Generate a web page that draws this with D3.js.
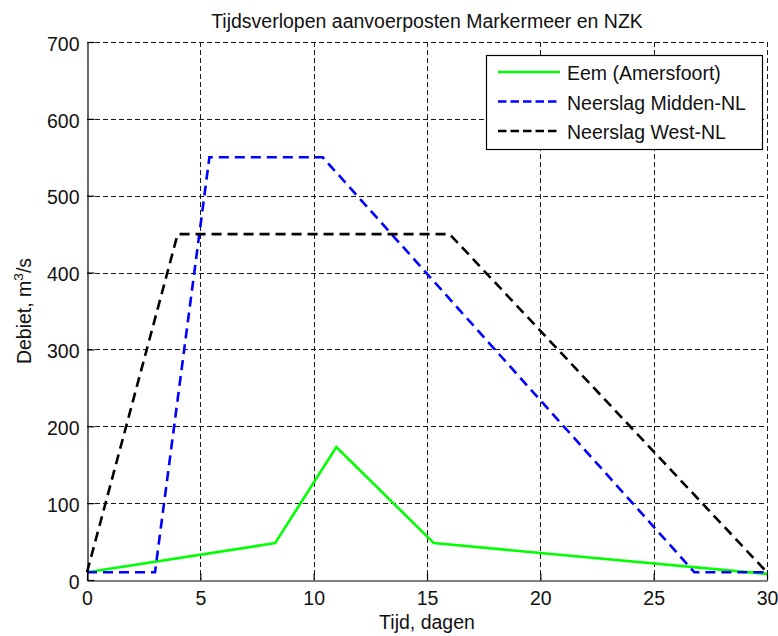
<!DOCTYPE html>
<html>
<head>
<meta charset="utf-8">
<script src="https://cdn.jsdelivr.net/npm/d3@7"></script>
<style>
  html, body { margin: 0; padding: 0; background: #fff; }
  svg { display: block; }
  text { font-family: "Liberation Sans", Arial, Helvetica, sans-serif; fill: #111; }
</style>
</head>
<body>
<svg id="chart" width="778" height="636"></svg>
<script>
// Discharge time series (days, m3/s)
const eemDays   = [0, 8.3, 11, 15.3, 30];
const eemFlow   = [10, 48, 173, 48, 8];
const midDays   = [0, 3, 5.4, 10.4, 26.8, 30];
const midFlow   = [10, 10, 550, 550, 10, 10];
const westDays  = [0, 4, 16, 30];
const westFlow  = [10, 450, 450, 10];

const seriesNames = ["Eem (Amersfoort)", "Neerslag Midden-NL", "Neerslag West-NL"];
const xTicks = [0, 5, 10, 15, 20, 25, 30];
const yTicks = [0, 100, 200, 300, 400, 500, 600, 700];

const titleText = "Tijdsverlopen aanvoerposten Markermeer en NZK";
const xLabel = "Tijd, dagen";

const FS = 19.5;
const m = { left: 87, right: 767, top: 42, bottom: 580 };

const svg = d3.select("#chart");

const x = d3.scaleLinear().domain([0, 30]).range([m.left, m.right]);
const y = d3.scaleLinear().domain([0, 700]).range([m.bottom, m.top]);

// dashed grid
const grid = svg.append("g").attr("stroke", "#1a1a1a").attr("stroke-width", 1)
  .attr("stroke-dasharray", "5,3");
grid.selectAll("line.v").data(xTicks.filter(d => d > 0)).join("line")
  .attr("x1", d => Math.round(x(d)) + 0.5).attr("x2", d => Math.round(x(d)) + 0.5)
  .attr("y1", m.top).attr("y2", m.bottom);
grid.selectAll("line.h").data(yTicks.filter(d => d > 0)).join("line")
  .attr("x1", m.left).attr("x2", m.right)
  .attr("y1", d => Math.round(y(d)) + 0.5).attr("y2", d => Math.round(y(d)) + 0.5);

// data lines
const series = [
  { name: seriesNames[0], xs: eemDays,  ys: eemFlow,  color: "#00ff00", dash: null },
  { name: seriesNames[1], xs: midDays,  ys: midFlow,  color: "#0000ff", dash: "10,6" },
  { name: seriesNames[2], xs: westDays, ys: westFlow, color: "#000000", dash: "10,6" }
];
const line = d3.line().x(d => x(d[0])).y(d => y(d[1]));
svg.append("g").selectAll("path").data(series).join("path")
  .attr("d", s => line(d3.zip(s.xs, s.ys)))
  .attr("fill", "none")
  .attr("stroke", s => s.color)
  .attr("stroke-width", 2.6)
  .attr("stroke-dasharray", s => s.dash);

// axes with inward ticks
const xAxis = d3.axisBottom(x).tickValues(xTicks).tickFormat(d3.format("d"))
  .tickSizeInner(-7).tickSizeOuter(0).tickPadding(11);
const yAxis = d3.axisLeft(y).tickValues(yTicks).tickFormat(d3.format("d"))
  .tickSizeInner(-7).tickSizeOuter(0).tickPadding(8);

const gx = svg.append("g").attr("transform", `translate(0,${m.bottom + 0.5})`).call(xAxis);
const gy = svg.append("g").attr("transform", `translate(${m.left + 0.5},0)`).call(yAxis);
[gx, gy].forEach(g => {
  g.select(".domain").attr("stroke", "#000").attr("stroke-width", 1.2);
  g.selectAll(".tick line").attr("stroke", "#000").attr("stroke-width", 1.2);
  g.selectAll(".tick text").attr("font-size", FS).attr("font-family", null).attr("fill", "#111");
});
gy.selectAll(".tick text").attr("dy", "0.42em");

// titles
svg.append("text").attr("x", (m.left + m.right) / 2).attr("y", 28)
  .attr("text-anchor", "middle").attr("font-size", FS).text(titleText);
svg.append("text").attr("x", (m.left + m.right) / 2).attr("y", 629)
  .attr("text-anchor", "middle").attr("font-size", FS).text(xLabel);
const yl = svg.append("text")
  .attr("transform", `translate(31,${(m.top + m.bottom) / 2}) rotate(-90)`)
  .attr("text-anchor", "middle").attr("font-size", FS);
yl.append("tspan").text("Debiet, m");
yl.append("tspan").attr("font-size", FS * 0.7).attr("dy", -8).text("3");
yl.append("tspan").attr("dy", 8).text("/s");

// legend
const lg = svg.append("g");
lg.append("rect").attr("x", 486.5).attr("y", 55.5).attr("width", 276).attr("height", 94)
  .attr("fill", "#fff").attr("stroke", "#000").attr("stroke-width", 1.2);
const rowY = [72, 101.5, 131];
const rows = lg.selectAll("g.row").data(series).join("g")
  .attr("transform", (d, i) => `translate(0,${rowY[i]})`);
rows.append("line").attr("x1", 498).attr("x2", 560).attr("y1", 0).attr("y2", 0)
  .attr("stroke", d => d.color).attr("stroke-width", 2.6)
  .attr("stroke-dasharray", d => d.dash ? "8.5,4" : null);
rows.append("text").attr("x", 567).attr("y", 8).attr("font-size", FS).text(d => d.name);
</script>
</body>
</html>
